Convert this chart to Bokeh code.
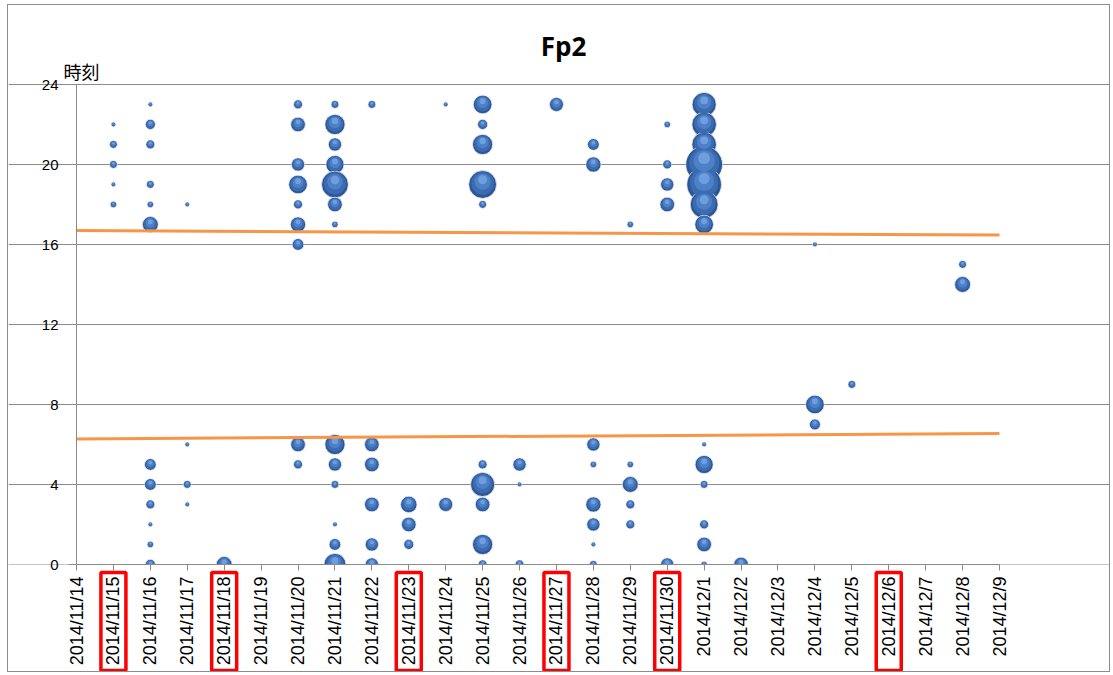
import math
import pandas as pd
from bokeh.plotting import figure
from bokeh.models import FixedTicker, ColumnDataSource, Range1d
from bokeh.core.properties import value
from bokeh.embed import file_html
from bokeh.resources import INLINE

# ---------------- data ----------------
title_text = "Fp2"
y_label_text = "時刻"
start_date = "2014/11/14"
end_date = "2014/12/9"
highlight_dates = ["2014/11/15", "2014/11/18", "2014/11/23", "2014/11/27",
                   "2014/11/30", "2014/12/6"]
y_ticks = [0, 4, 8, 12, 16, 20, 24]

bubble_dates = (
    ["2014/11/15"] * 5 +
    ["2014/11/16"] * 12 +
    ["2014/11/17"] * 4 +
    ["2014/11/18"] * 1 +
    ["2014/11/20"] * 9 +
    ["2014/11/21"] * 13 +
    ["2014/11/22"] * 6 +
    ["2014/11/23"] * 3 +
    ["2014/11/24"] * 2 +
    ["2014/11/25"] * 10 +
    ["2014/11/26"] * 3 +
    ["2014/11/27"] * 1 +
    ["2014/11/28"] * 8 +
    ["2014/11/29"] * 5 +
    ["2014/11/30"] * 5 +
    ["2014/12/1"] * 13 +
    ["2014/12/2"] * 1 +
    ["2014/12/4"] * 3 +
    ["2014/12/5"] * 1 +
    ["2014/12/8"] * 2
)
bubble_hours = [
    22, 21, 20, 19, 18,
    23, 22, 21, 19, 18, 17, 5, 4, 3, 2, 1, 0,
    18, 6, 4, 3,
    0,
    23, 22, 20, 19, 18, 17, 16, 6, 5,
    23, 22, 21, 20, 19, 18, 17, 6, 5, 4, 2, 1, 0,
    23, 6, 5, 3, 1, 0,
    3, 2, 1,
    23, 3,
    23, 22, 21, 19, 18, 5, 4, 3, 1, 0,
    5, 4, 0,
    23,
    21, 20, 6, 5, 3, 2, 1, 0,
    17, 5, 4, 3, 2,
    22, 20, 19, 18, 0,
    23, 22, 21, 20, 19, 18, 17, 6, 5, 4, 2, 1, 0,
    0,
    16, 8, 7,
    9,
    15, 14,
]
bubble_counts = [
    1, 3, 3, 1, 2,
    1, 5, 4, 3, 2, 13, 7, 7, 4, 1, 2, 5,
    1, 1, 3, 1,
    13,
    4, 11, 9, 18, 4, 12, 7, 11, 4,
    3, 21, 9, 17, 37, 11, 2, 21, 9, 3, 1, 7, 25,
    3, 11, 11, 11, 9, 9,
    14, 11, 5,
    1, 10,
    18, 5, 21, 40, 3, 4, 30, 11, 21, 4,
    9, 1, 4,
    10,
    7, 12, 9, 2, 12, 9, 1, 3,
    2, 2, 13, 4, 4,
    2, 4, 9, 11, 9,
    30, 31, 31, 70, 62, 40, 18, 1, 17, 3, 4, 11, 2,
    11,
    1, 18, 6,
    3,
    3, 13,
]

trend_dates = ["2014/11/14", "2014/12/9"]
trend_upper = [16.70, 16.47]
trend_lower = [6.28, 6.55]

# ---------------- layout (canvas pixels) ----------------
CANVAS_W, CANVAS_H = 1101, 666
AX_LEFT, AX_RIGHT = 68, 991      # canvas x of first / last date
AX_TOP, AX_BOTTOM = 79, 559      # canvas y of 24h / 0h

# ---------------- derived ----------------
t0 = pd.Timestamp(start_date)
def day_index(s):
    return (pd.Timestamp(s) - t0).days

n_days = day_index(end_date)
tick_days = list(range(n_days + 1))
tick_labels = {}
for i in tick_days:
    d = t0 + pd.Timedelta(days=i)
    tick_labels[i] = f"{d.year}/{d.month}/{d.day}"
hl_idx = [day_index(s) for s in highlight_dates]

y_max = y_ticks[-1]
day_per_px = n_days / (AX_RIGHT - AX_LEFT)
hour_per_px = y_max / (AX_BOTTOM - AX_TOP)
x_start = -AX_LEFT * day_per_px
x_end = n_days + (CANVAS_W - AX_RIGHT) * day_per_px
y_start = -(CANVAS_H - AX_BOTTOM) * hour_per_px
y_end = y_max + AX_TOP * hour_per_px

diam = [4.4 * math.sqrt(c) for c in bubble_counts]
xs = [day_index(s) for s in bubble_dates]
src = ColumnDataSource(dict(
    x=xs, y=bubble_hours, d=diam,
    d2=[v * 0.82 for v in diam],
    d3=[v * 0.58 for v in diam],
    d4=[v * 0.32 for v in diam],
    y2=[h + v * 0.04 * hour_per_px for h, v in zip(bubble_hours, diam)],
    y3=[h + v * 0.10 * hour_per_px for h, v in zip(bubble_hours, diam)],
    y4=[h + v * 0.17 * hour_per_px for h, v in zip(bubble_hours, diam)],
))

# ---------------- figure ----------------
p = figure(frame_width=CANVAS_W, frame_height=CANVAS_H, min_border=0,
           x_range=Range1d(x_start, x_end), y_range=Range1d(y_start, y_end),
           output_backend="svg", toolbar_location=None,
           background_fill_color="white", border_fill_color="white")
p.margin = (4, 0, 0, 7)
p.styles = {"border": "1px solid #8c8c8c"}
p.outline_line_color = None

grid_col = "#8a8a8a"
# x axis
p.xaxis.fixed_location = 0
p.xaxis.bounds = (0, n_days)
p.xaxis.ticker = FixedTicker(ticks=tick_days)
p.xaxis.major_label_overrides = {i: tick_labels[i] for i in tick_days}
p.xaxis.major_label_orientation = math.pi / 2
p.xaxis.major_label_text_font = "Liberation Sans"
p.xaxis.major_label_text_font_size = "18px"
p.xaxis.major_label_text_color = "black"
p.xaxis.major_label_standoff = 6
p.xaxis.major_tick_out = 6
p.xaxis.major_tick_in = 0
p.xaxis.minor_tick_line_color = None
p.xaxis.axis_line_color = grid_col
p.xaxis.major_tick_line_color = grid_col
p.xgrid.grid_line_color = None

# y axis
p.yaxis.fixed_location = 0
p.yaxis.bounds = (0, y_max)
p.yaxis.ticker = FixedTicker(ticks=y_ticks)
p.yaxis.major_label_text_font = "Liberation Sans"
p.yaxis.major_label_text_font_size = "15px"
p.yaxis.major_label_text_color = "black"
p.yaxis.major_label_standoff = 10
p.yaxis.major_tick_out = 8
p.yaxis.major_tick_in = 0
p.yaxis.minor_tick_line_color = None
p.yaxis.axis_line_color = grid_col
p.yaxis.major_tick_line_color = grid_col
p.ygrid.grid_line_color = grid_col
p.ygrid.grid_line_width = 1
p.ygrid.bounds = (0, n_days)

# bubbles (layered for a spherical look)
p.scatter("x", "y", size="d", source=src, fill_color="#2c5694",
          line_color="#e4ebf5", line_width=0.8)
p.scatter("x", "y2", size="d2", source=src, fill_color="#3b6cb2", line_color=None)
p.scatter("x", "y3", size="d3", source=src, fill_color="#4d80c6", line_color=None)
p.scatter("x", "y4", size="d4", source=src, fill_color="#6e9edd", line_color=None)

# mask: bubbles are clipped at the 0h axis like in the plot area
p.quad(left=[x_start], right=[x_end], top=[0], bottom=[y_start],
       fill_color="white", line_color=None)

# trend lines
tx = [day_index(s) for s in trend_dates]
p.line(tx, trend_upper, line_color="#f79646", line_width=3)
p.line(tx, trend_lower, line_color="#f79646", line_width=3)

# red frames around highlighted date labels
half_w = 12.5 * day_per_px
p.quad(left=[i - half_w for i in hl_idx], right=[i + half_w for i in hl_idx],
       top=[-8 * hour_per_px] * len(hl_idx),
       bottom=[-106 * hour_per_px] * len(hl_idx),
       fill_color=None, line_color="#ff0000", line_width=3.5)

# title and y label
p.text(x=[(563 - 76) * day_per_px], y=[y_max + 39 * hour_per_px], text=[title_text],
       text_align="center", text_baseline="middle", text_font=value("Open Sans"),
       text_font_style="bold", text_font_size="26px", text_color="black")
p.text(x=[-13 * day_per_px], y=[y_max + 13.5 * hour_per_px], text=[y_label_text],
       text_align="left", text_baseline="middle", text_font=value("Noto Sans CJK JP"),
       text_font_size="18px", text_color="black")

open("out.html", "w").write(file_html(p, INLINE))
